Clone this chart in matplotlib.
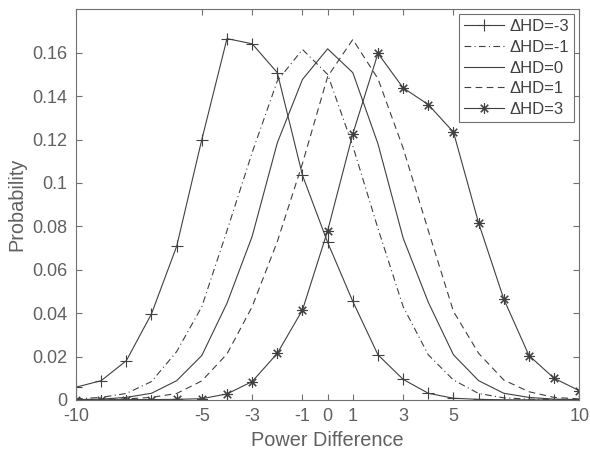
import matplotlib
matplotlib.use("Agg")
import matplotlib.pyplot as plt
from matplotlib.ticker import FuncFormatter

power_diff = list(range(-10, 11))

hd_m3 = [0.0059, 0.0089, 0.0181, 0.0397, 0.0708, 0.1200, 0.1665, 0.1641, 0.1508, 0.1035,
         0.0726, 0.0454, 0.0208, 0.0095, 0.0031, 0.0008, 0.0003, 0.0001, 0.0001, 0.0000, 0.0000]
hd_m1 = [0.0005, 0.0012, 0.0030, 0.0085, 0.0223, 0.0430, 0.0780, 0.1140, 0.1470, 0.1615,
         0.1500, 0.1170, 0.0790, 0.0430, 0.0208, 0.0092, 0.0030, 0.0010, 0.0004, 0.0002, 0.0001]
hd_0 = [0.0002, 0.0004, 0.0012, 0.0031, 0.0089, 0.0205, 0.0446, 0.0754, 0.1185, 0.1477,
        0.1618, 0.1508, 0.1180, 0.0746, 0.0450, 0.0208, 0.0089, 0.0031, 0.0012, 0.0004, 0.0002]
hd_p1 = [0.0001, 0.0002, 0.0005, 0.0012, 0.0030, 0.0088, 0.0212, 0.0430, 0.0730, 0.1090,
         0.1490, 0.1661, 0.1480, 0.1160, 0.0780, 0.0408, 0.0215, 0.0092, 0.0038, 0.0012, 0.0005]
hd_p3 = [0.0001, 0.0001, 0.0002, 0.0002, 0.0003, 0.0006, 0.0028, 0.0085, 0.0215, 0.0415,
         0.0780, 0.1226, 0.1597, 0.1438, 0.1361, 0.1234, 0.0815, 0.0465, 0.0205, 0.0100, 0.0043]

labels = ["\u0394HD=-3", "\u0394HD=-1", "\u0394HD=0", "\u0394HD=1", "\u0394HD=3"]
x_ticks = [-10, -5, -3, -1, 0, 1, 3, 5, 10]
y_ticks = [0, 0.02, 0.04, 0.06, 0.08, 0.1, 0.12, 0.14, 0.16]

plt.rcParams['font.family'] = ['Liberation Sans', 'DejaVu Sans']
plt.rcParams['axes.unicode_minus'] = False

fig = plt.figure(figsize=(5.9, 4.58), dpi=100)
ax = fig.add_axes([76/590, 58/458, (579.3-76)/590, (400-9.3)/458])

lc = '#404040'
lw = 0.8
ax.plot(power_diff, hd_m3, color=lc, lw=lw, marker='+', ms=8, mew=0.8, label=labels[0])
ax.plot(power_diff, hd_m1, color=lc, lw=lw, ls=(0, (6, 3, 1, 3)), label=labels[1])
ax.plot(power_diff, hd_0, color=lc, lw=lw, ls='-', label=labels[2])
ax.plot(power_diff, hd_p1, color=lc, lw=lw, ls=(0, (6, 4)), label=labels[3])
ax.plot(power_diff, hd_p3, color=lc, lw=lw, marker=(8, 2, 0), ms=7.5, mew=0.8, label=labels[4])

ax.set_xlim(-10, 10)
ax.set_ylim(0, 0.18)
ax.set_xticks(x_ticks)
ax.set_xticklabels([str(v) for v in x_ticks])
ax.set_yticks(y_ticks)
ax.yaxis.set_major_formatter(FuncFormatter(lambda v, p: '%g' % round(v, 4)))

tc = '#606060'
sc = '#707070'
for s in ax.spines.values():
    s.set_color(sc)
    s.set_linewidth(0.8)
ax.tick_params(direction='in', top=True, right=True, length=4, width=0.8,
               colors=sc, labelcolor=tc, labelsize=13, pad=6)

ax.set_xlabel('Power Difference', fontsize=14.3, color=tc, labelpad=4)
ax.set_ylabel('Probability', fontsize=14.3, color=tc, labelpad=4)

leg = ax.legend(loc='upper right', bbox_to_anchor=(1 - 5.5/503.3, 1 - 5/390.7),
                fontsize=12, frameon=True, fancybox=False, framealpha=1,
                edgecolor=sc, handlelength=2.4, handletextpad=0.3,
                labelspacing=0.34, borderaxespad=0, borderpad=0.3)
leg.get_frame().set_linewidth(0.8)
for t in leg.get_texts():
    t.set_color('#404040')

fig.savefig('out.png', dpi=100)
